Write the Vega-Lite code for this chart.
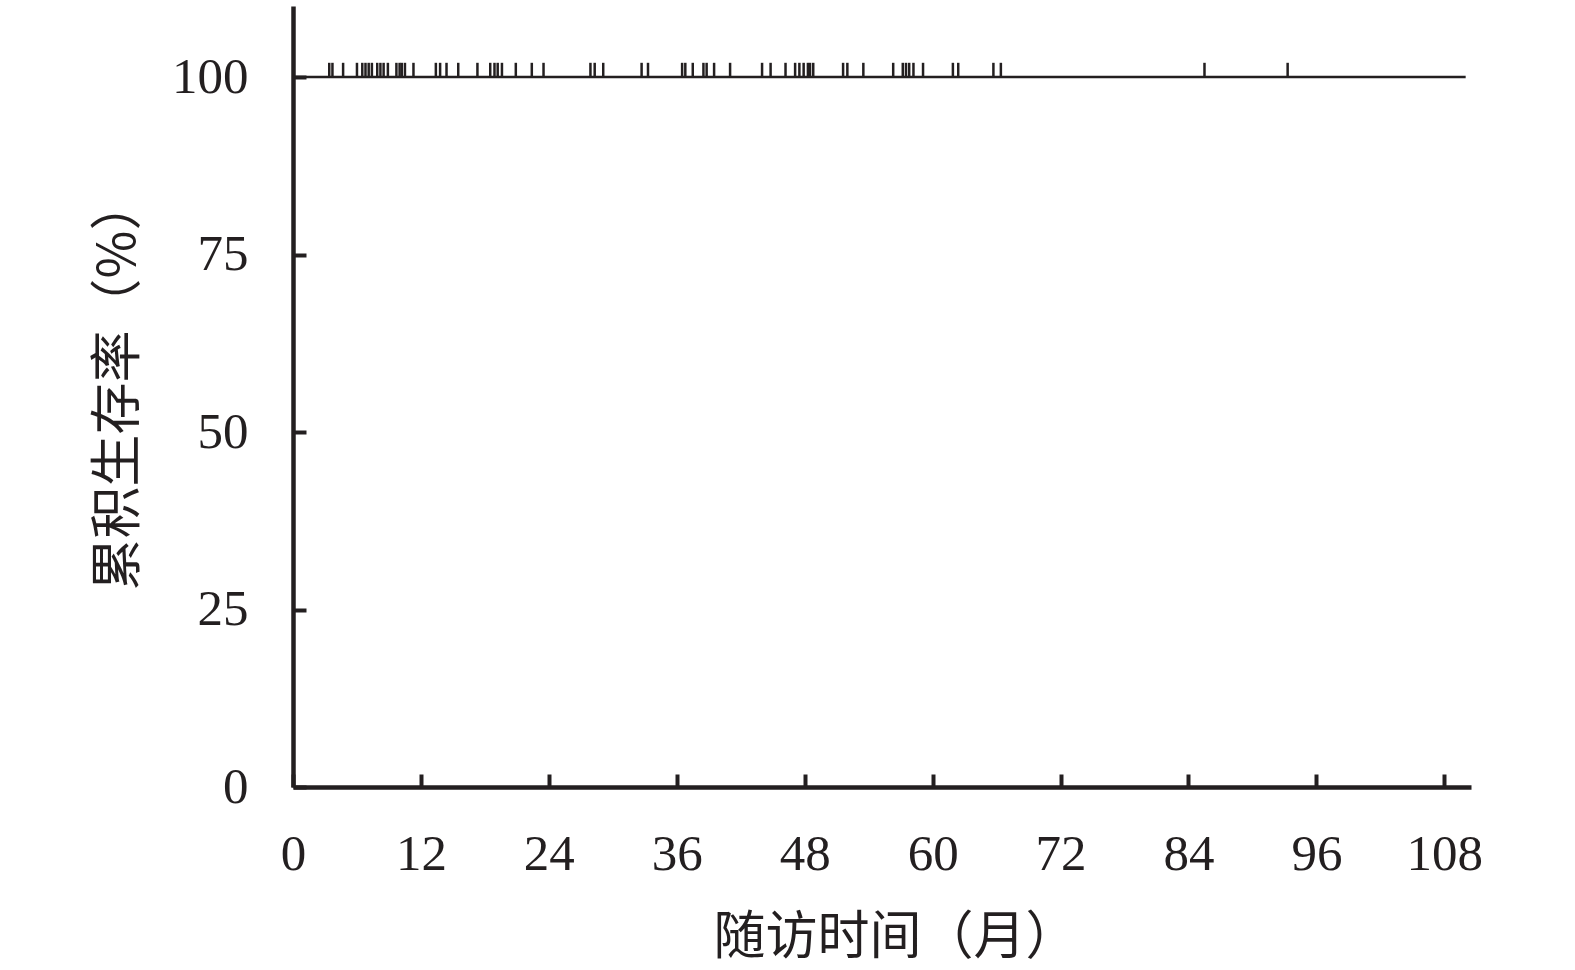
{
  "$schema": "https://vega.github.io/schema/vega-lite/v6.json",
  "width": 1178,
  "height": 781,
  "autosize": {"type": "none"},
  "padding": {"left": 293, "top": 6, "right": 104, "bottom": 183},
  "background": "white",
  "config": {
    "view": {"stroke": null},
    "axis": {
      "domainColor": "#231f20",
      "domainWidth": 4.5,
      "tickColor": "#231f20",
      "tickWidth": 4,
      "tickSize": -13,
      "grid": false,
      "labelFont": "Liberation Serif",
      "labelFontSize": 51,
      "labelColor": "#231f20",
      "titleFont": "Noto Sans CJK SC",
      "titleFontWeight": "normal",
      "titleFontSize": 52,
      "titleColor": "#231f20"
    }
  },
  "layer": [
    {
      "data": {"values": [{"time": 0, "surv": 100}, {"time": 110.0, "surv": 100}]},
      "mark": {"type": "line", "color": "#231f20", "strokeWidth": 2.5, "interpolate": "step-after"},
      "encoding": {
        "x": {"field": "time", "type": "quantitative", "scale": {"domain": [0, 110.5], "nice": false},
          "axis": {"values": [0, 12, 24, 36, 48, 60, 72, 84, 96, 108], "title": "随访时间（月）", "labelPadding": 55, "titlePadding": 33, "titleX": 602, "labelFlush": false}},
        "y": {"field": "surv", "type": "quantitative", "scale": {"domain": [0, 110], "nice": false},
          "axis": {"values": [0, 25, 50, 75, 100], "title": "累积生存率（%）", "labelPadding": 58, "titlePadding": 26, "titleY": 378, "labelFlush": false}}
      }
    },
    {
      "data": {"values": [
        {"time": 3.4}, {"time": 3.7}, {"time": 4.7}, {"time": 6.0}, {"time": 6.5}, {"time": 6.8}, {"time": 7.1}, {"time": 7.4},
        {"time": 7.9}, {"time": 8.2}, {"time": 8.5}, {"time": 8.9}, {"time": 9.7}, {"time": 10.0}, {"time": 10.2}, {"time": 10.5},
        {"time": 11.3}, {"time": 13.4}, {"time": 13.8}, {"time": 14.4}, {"time": 15.5}, {"time": 17.3}, {"time": 18.5}, {"time": 18.9},
        {"time": 19.2}, {"time": 19.6}, {"time": 20.9}, {"time": 22.4}, {"time": 23.5}, {"time": 27.9}, {"time": 28.3}, {"time": 29.1},
        {"time": 32.7}, {"time": 33.3}, {"time": 36.5}, {"time": 36.8}, {"time": 37.5}, {"time": 38.5}, {"time": 38.8}, {"time": 39.5},
        {"time": 41.0}, {"time": 44.0}, {"time": 44.8}, {"time": 46.2}, {"time": 47.1}, {"time": 47.5}, {"time": 47.9}, {"time": 48.3},
        {"time": 48.5}, {"time": 48.8}, {"time": 51.6}, {"time": 52.0}, {"time": 53.5}, {"time": 56.3}, {"time": 57.2}, {"time": 57.5},
        {"time": 57.8}, {"time": 58.2}, {"time": 59.1}, {"time": 61.9}, {"time": 62.4}, {"time": 65.7}, {"time": 66.4}, {"time": 85.5},
        {"time": 93.3}
      ]},
      "mark": {"type": "rule", "color": "#231f20", "strokeWidth": 2.5},
      "encoding": {
        "x": {"field": "time", "type": "quantitative"},
        "y": {"datum": 100, "type": "quantitative"},
        "y2": {"datum": 102}
      }
    }
  ]
}
